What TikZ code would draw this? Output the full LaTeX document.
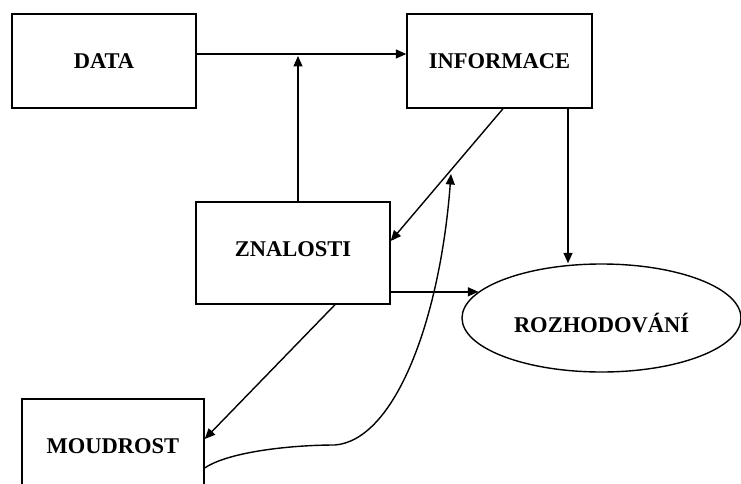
\documentclass[tikz,border=0pt]{standalone}
\usepackage{fontspec}
\setmainfont{Liberation Serif}
\usetikzlibrary{arrows.meta,shapes.geometric}

\begin{document}
\begin{tikzpicture}[x=1pt,y=-1pt,
  every node/.style={font=\fontsize{22.5}{27}\selectfont\bfseries, inner sep=0pt},
  block/.style={draw, line width=1.4pt, rectangle},
  oval/.style={draw, line width=1.4pt, ellipse},
  link/.style={line width=1.4pt, -{Triangle[length=10.5pt,width=9pt]}}]

  \useasboundingbox (0,0) rectangle (741,484);
  \clip (0,0) rectangle (741,484);

  % boxes
  \node[block, minimum width=184pt, minimum height=94pt] (data) at (104,61) {DATA};
  \node[block, minimum width=185pt, minimum height=94pt] (info) at (499.5,61) {INFORMACE};
  \node[block, minimum width=194pt, minimum height=102pt,
        text height=14.6pt, text depth=8pt] (zn) at (293,253) {ZNALOSTI};
  \node[block, minimum width=182pt, minimum height=94pt] (moud) at (113,446) {MOUDROST};
  \node[oval, minimum width=279pt, minimum height=108pt,
        text height=28.6pt, text depth=0pt] (rozh) at (601.5,318) {ROZHODOVÁNÍ};

  % free ends of connectors
  \coordinate (junction) at (298,56);
  \coordinate (curveend) at (451,174);

  % connectors
  \draw[link] ([yshift=7pt]data.east) -- ([yshift=7pt]info.west);
  \draw[link] ([xshift=5pt]zn.north) -- (junction);
  \draw[link] ([xshift=3.5pt]info.south) -- ([yshift=12pt]zn.east);
  \draw[link] ([xshift=68.5pt]info.south) -- ([xshift=-33.5pt]rozh.north);
  \draw[link] (zn.east |- rozh.168) -- (rozh.168);
  \draw[link] ([xshift=42pt]zn.south) -- ([yshift=7pt]moud.east);
  \draw[link] ([yshift=-22pt]moud.east)
      .. controls (228,452) and (290,445) .. (335,445)
      .. controls (395,440) and (440,320) .. (curveend);
\end{tikzpicture}
\end{document}
